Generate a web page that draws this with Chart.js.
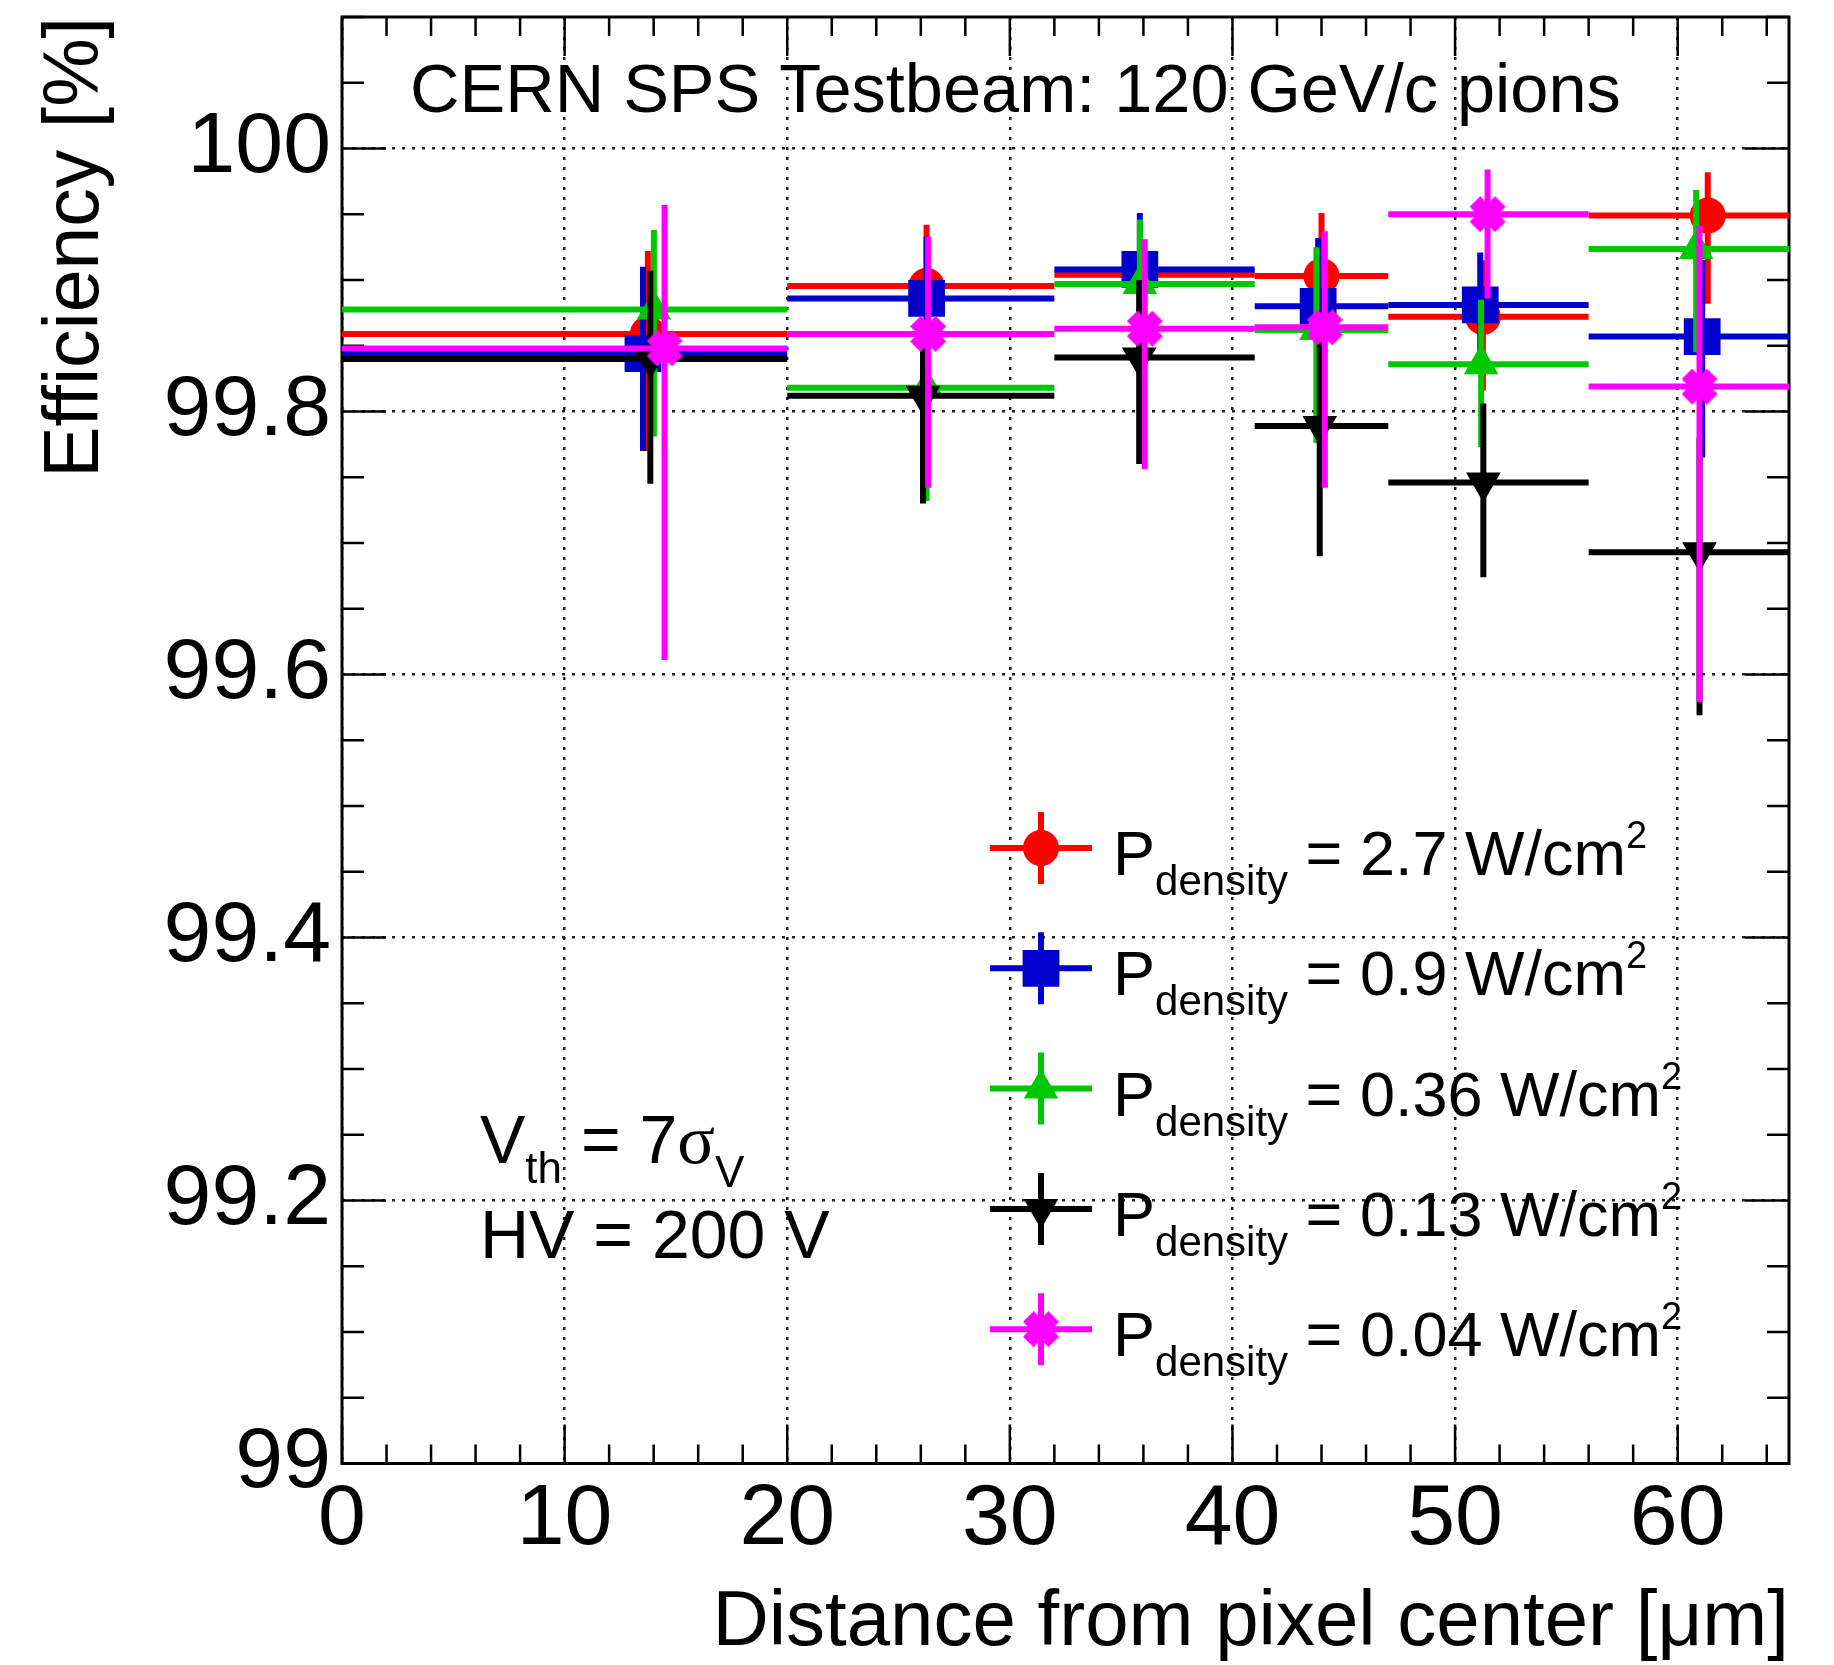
<!DOCTYPE html>
<html>
<head>
<meta charset="utf-8">
<script src="https://cdn.jsdelivr.net/npm/chart.js@4.4.1/dist/chart.umd.min.js"></script>
<style>
html,body{margin:0;padding:0;background:#fff;}
#c{display:block;}
</style>
</head>
<body>
<canvas id="c" width="1834" height="1665"></canvas>
<script>
// ---------------- data ----------------
const binLow  = [0, 20, 32, 41, 47, 56];
const binHigh = [20, 32, 41, 47, 56, 65];

const xTickValues = [0, 10, 20, 30, 40, 50, 60];
const xTickLabels = ['0', '10', '20', '30', '40', '50', '60'];
const yTickValues = [99, 99.2, 99.4, 99.6, 99.8, 100];
const yTickLabels = ['99', '99.2', '99.4', '99.6', '99.8', '100'];

const powerLabels = ['2.7', '0.9', '0.36', '0.13', '0.04'];

// P = 2.7 W/cm2 (red)
const redX  = [13.74, 26.26, 35.85, 44.00, 51.25, 61.35];
const redY  = [99.859, 99.8955, 99.904, 99.903, 99.872, 99.949];
const redHi = [99.922, 99.942, 99.945, 99.951, 99.915, 99.982];
const redLo = [99.770, 99.835, 99.860, 99.845, 99.816, 99.882];
// P = 0.9 W/cm2 (blue)
const blueX  = [13.52, 26.26, 35.84, 43.85, 51.13, 61.10];
const blueY  = [99.844, 99.886, 99.908, 99.880, 99.881, 99.857];
const blueHi = [99.910, 99.933, 99.951, 99.932, 99.921, 99.915];
const blueLo = [99.770, 99.830, 99.850, 99.820, 99.845, 99.765];
// P = 0.36 W/cm2 (green)
const greenX  = [14.01, 26.26, 35.84, 43.77, 51.17, 60.83];
const greenY  = [99.8775, 99.818, 99.897, 99.862, 99.836, 99.9235];
const greenHi = [99.938, 99.870, 99.946, 99.925, 99.885, 99.9685];
const greenLo = [99.781, 99.732, 99.840, 99.776, 99.773, 99.845];
// P = 0.13 W/cm2 (black)
const blackX  = [13.85, 26.10, 35.81, 43.92, 51.27, 60.98];
const blackY  = [99.840, 99.812, 99.841, 99.789, 99.746, 99.693];
const blackHi = [99.907, 99.870, 99.900, 99.860, 99.806, 99.780];
const blackLo = [99.745, 99.730, 99.760, 99.690, 99.674, 99.569];
// P = 0.04 W/cm2 (magenta)
const magX  = [14.49, 26.33, 36.06, 44.15, 51.46, 60.98];
const magY  = [99.848, 99.859, 99.863, 99.864, 99.950, 99.819];
const magHi = [99.957, 99.933, 99.931, 99.937, 99.984, 99.941];
const magLo = [99.611, 99.742, 99.756, 99.742, 99.886, 99.579];

// ---------------- styling ----------------
const FONT = "'Liberation Sans', Arial, Helvetica, sans-serif";
const SERIF = "'Liberation Serif', 'DejaVu Serif', serif";
const ERR_W = 6;

function makeCrossMarker(color, size) {
  const c = document.createElement('canvas');
  c.width = size; c.height = size;
  const g = c.getContext('2d');
  g.translate(size / 2, size / 2);
  g.rotate(Math.PI / 4);
  const w = 7.5, L = (size / 2) * Math.SQRT2 - w;
  g.fillStyle = color;
  g.beginPath();
  g.moveTo(-w, -L); g.lineTo(w, -L); g.lineTo(w, -w); g.lineTo(L, -w);
  g.lineTo(L, w); g.lineTo(w, w); g.lineTo(w, L); g.lineTo(-w, L);
  g.lineTo(-w, w); g.lineTo(-L, w); g.lineTo(-L, -w); g.lineTo(-w, -w);
  g.closePath();
  g.fill();
  return c;
}
const magMarker = makeCrossMarker('#ff00ff', 36);

function makeDataset(label, xs, ys, lo, hi, color, style, radius, rotation, order) {
  return {
    label,
    data: xs.map((x, i) => ({ x: x, y: ys[i], yMin: lo[i], yMax: hi[i], xMin: binLow[i], xMax: binHigh[i] })),
    showLine: false,
    borderColor: color,
    backgroundColor: color,
    pointStyle: style,
    pointRadius: radius,
    pointHoverRadius: radius,
    pointRotation: rotation,
    pointBorderWidth: 0,
    pointBackgroundColor: color,
    pointBorderColor: color,
    order: order
  };
}

const datasets = [
  makeDataset('P_density = 2.7 W/cm2', redX, redY, redLo, redHi, '#ff0000', 'circle', 18, 0, 5),
  makeDataset('P_density = 0.9 W/cm2', blueX, blueY, blueLo, blueHi, '#0000cc', 'rect', 26, 0, 4),
  makeDataset('P_density = 0.36 W/cm2', greenX, greenY, greenLo, greenHi, '#00c800', 'triangle', 20, 0, 3),
  makeDataset('P_density = 0.13 W/cm2', blackX, blackY, blackLo, blackHi, '#000000', 'triangle', 20, 180, 2),
  makeDataset('P_density = 0.04 W/cm2', magX, magY, magLo, magHi, '#ff00ff', magMarker, 18, 0, 1)
];

// ---------------- plugins ----------------
const errorBars = {
  id: 'errorBars',
  beforeDatasetDraw(chart, args) {
    const ds = chart.data.datasets[args.index];
    const xs = chart.scales.x, ys = chart.scales.y;
    const ctx = chart.ctx;
    const a = chart.chartArea;
    ctx.save();
    ctx.beginPath();
    ctx.rect(a.left, a.top, a.right - a.left, a.bottom - a.top);
    ctx.clip();
    ctx.strokeStyle = ds.borderColor;
    ctx.lineWidth = ERR_W;
    ctx.lineCap = 'butt';
    ds.data.forEach(p => {
      const px = xs.getPixelForValue(p.x), py = ys.getPixelForValue(p.y);
      ctx.beginPath();
      ctx.moveTo(xs.getPixelForValue(p.xMin), py);
      ctx.lineTo(xs.getPixelForValue(p.xMax), py);
      ctx.moveTo(px, ys.getPixelForValue(p.yMax));
      ctx.lineTo(px, ys.getPixelForValue(p.yMin));
      ctx.stroke();
    });
    ctx.restore();
  }
};

const framePlugin = {
  id: 'frame',
  beforeDatasetsDraw(chart) {
    const ctx = chart.ctx, a = chart.chartArea;
    const xs = chart.scales.x, ys = chart.scales.y;
    ctx.save();
    ctx.strokeStyle = '#000';
    ctx.lineWidth = 2.5;
    ctx.beginPath();
    for (let k = 0; k <= 32; k++) {
      const v = k * 2;
      const px = xs.getPixelForValue(v);
      const L = (v % 10 === 0) ? 39 : 19;
      ctx.moveTo(px, a.bottom); ctx.lineTo(px, a.bottom - L);
      ctx.moveTo(px, a.top); ctx.lineTo(px, a.top + L);
    }
    for (let k = 0; k <= 22; k++) {
      const v = 99 + k * 0.05;
      const py = ys.getPixelForValue(v);
      const L = (k % 4 === 0) ? 44 : 22;
      ctx.moveTo(a.left, py); ctx.lineTo(a.left + L, py);
      ctx.moveTo(a.right, py); ctx.lineTo(a.right - L, py);
    }
    ctx.stroke();
    ctx.lineWidth = 3;
    ctx.strokeRect(a.left, a.top, a.right - a.left, a.bottom - a.top);
    ctx.restore();
  }
};

function drawRuns(ctx, runs, x, baseY) {
  runs.forEach(r => {
    const [text, size, dy, family] = r;
    ctx.font = size + 'px ' + (family || FONT);
    ctx.fillText(text, x, baseY + dy);
    x += ctx.measureText(text).width;
  });
  return x;
}

function drawMarker(ctx, ds, x, y) {
  ctx.fillStyle = ds.pointBackgroundColor;
  ctx.strokeStyle = ds.pointBorderColor;
  const opts = { pointStyle: ds.pointStyle, radius: ds.pointRadius, rotation: ds.pointRotation, borderWidth: 0 };
  if (Chart.helpers && Chart.helpers.drawPoint) {
    ctx.beginPath();
    Chart.helpers.drawPoint(ctx, opts, x, y);
  } else if (ds.pointStyle instanceof HTMLCanvasElement) {
    ctx.drawImage(ds.pointStyle, x - ds.pointStyle.width / 2, y - ds.pointStyle.height / 2);
  } else {
    ctx.beginPath(); ctx.arc(x, y, ds.pointRadius, 0, Math.PI * 2); ctx.fill();
  }
}

const textPlugin = {
  id: 'texts',
  afterDatasetsDraw(chart) {
    const ctx = chart.ctx;
    ctx.save();
    ctx.fillStyle = '#000';
    ctx.textAlign = 'left';
    ctx.textBaseline = 'alphabetic';
    // header
    ctx.font = '68.5px ' + FONT;
    ctx.fillText('CERN SPS Testbeam: 120 GeV/c pions', 410, 112);
    // threshold / HV
    drawRuns(ctx, [['V', 68, 0], ['th', 44, 20], [' = 7', 68, 0], ['\u03C3', 70, 0, SERIF], ['V', 44, 24]], 480, 1163);
    drawRuns(ctx, [['HV = 200 V', 68, 0]], 480, 1258);
    // legend
    const cx = 1041;
    chart.data.datasets.forEach((ds, i) => {
      const rowY = 848 + i * 120.3;
      ctx.save();
      ctx.strokeStyle = ds.borderColor;
      ctx.lineWidth = ERR_W;
      ctx.beginPath();
      ctx.moveTo(cx - 51, rowY); ctx.lineTo(cx + 51, rowY);
      ctx.moveTo(cx, rowY - 36); ctx.lineTo(cx, rowY + 36);
      ctx.stroke();
      drawMarker(ctx, ds, cx, rowY);
      ctx.restore();
      ctx.fillStyle = '#000';
      drawRuns(ctx, [['P', 63, 27], ['density', 42, 47], [' = ' + powerLabels[i] + ' W/cm', 63, 27], ['2', 38, 0]], 1113, rowY);
    });
    ctx.restore();
  }
};

// ---------------- chart ----------------
new Chart(document.getElementById('c'), {
  type: 'scatter',
  data: { datasets },
  plugins: [errorBars, framePlugin, textPlugin],
  options: {
    responsive: false,
    animation: false,
    devicePixelRatio: 1,
    layout: { autoPadding: false, padding: { top: 17, right: 45, bottom: 0, left: 0 } },
    plugins: { legend: { display: false }, tooltip: { enabled: false } },
    scales: {
      x: {
        type: 'linear', position: 'bottom', min: 0, max: 65,
        afterBuildTicks: s => { s.ticks = xTickValues.map(v => ({ value: v })); },
        afterFit: s => { s.height = 201.5; s.paddingLeft = 0; s.paddingRight = 0; },
        grid: { color: '#222', lineWidth: 2.5, drawTicks: false },
        border: { display: false, dash: [3, 7] },
        ticks: {
          color: '#000', padding: 5, maxRotation: 0, autoSkip: false,
          font: { family: FONT, size: 86, lineHeight: 1.2 },
          callback: (v, i) => xTickLabels[i]
        },
        title: {
          display: true, text: 'Distance from pixel center [\u03BCm]', align: 'end', color: '#000',
          font: { family: FONT, size: 78, lineHeight: 1.0 }, padding: { top: 0, bottom: 3 }
        }
      },
      y: {
        type: 'linear', position: 'left', min: 99, max: 100.1,
        afterBuildTicks: s => { s.ticks = yTickValues.map(v => ({ value: v })); },
        afterFit: s => { s.width = 342; s.paddingTop = 0; s.paddingBottom = 0; },
        grid: { color: '#222', lineWidth: 2.5, drawTicks: false },
        border: { display: false, dash: [3, 7] },
        ticks: {
          color: '#000', padding: 11, autoSkip: false,
          font: { family: FONT, size: 86, lineHeight: 1.2 },
          callback: (v, i) => yTickLabels[i]
        },
        title: {
          display: true, text: 'Efficiency [%]', align: 'end', color: '#000',
          font: { family: FONT, size: 77, lineHeight: 1.0 }, padding: { top: 38, bottom: 0 }
        }
      }
    }
  }
});
</script>
</body>
</html>
